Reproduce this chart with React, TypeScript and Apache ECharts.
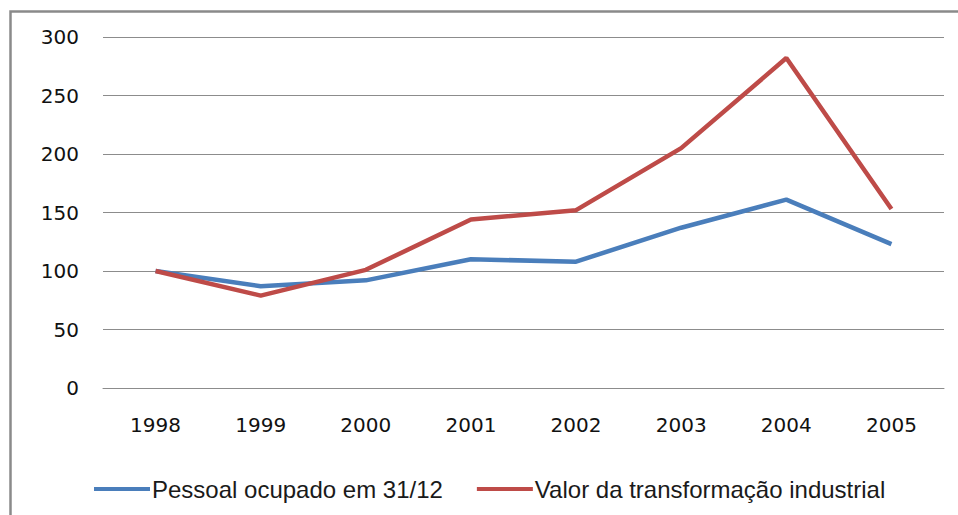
import React, { useEffect, useRef } from "react";
import * as echarts from "echarts";

const years = ["1998", "1999", "2000", "2001", "2002", "2003", "2004", "2005"];
const pessoalOcupado = [100, 87, 92, 110, 108, 137, 161, 123];
const valorTransformacao = [100, 79, 101, 144, 152, 205, 282, 153];
const seriesNames = ["Pessoal ocupado em 31/12", "Valor da transformação industrial"];

export default function App() {
  const ref = useRef<HTMLDivElement>(null);
  useEffect(() => {
    if (!ref.current) return;
    const chart = echarts.init(ref.current, null, { renderer: "svg" });
    chart.setOption({
      animation: false,
      backgroundColor: "#ffffff",
      graphic: [
        {
          type: "rect",
          shape: { x: 10.5, y: 11.5, width: 1000, height: 600 },
          style: { fill: "none", stroke: "#8a8a8a", lineWidth: 2.5 },
          silent: true,
        },
      ],
      grid: { left: 103, right: 14, top: 37, bottom: 127, containLabel: false },
      legend: {
        top: 472,
        left: 89,
        itemWidth: 56,
        itemHeight: 4,
        itemGap: 34,
        icon: "rect",
        textStyle: {
          fontFamily: "Liberation Sans, Arial, sans-serif",
          fontSize: 24,
          color: "#1a1a1a",
          padding: [0, 0, 0, -3],
        },
        data: seriesNames,
      },
      xAxis: {
        type: "category",
        data: years,
        boundaryGap: true,
        axisLine: { show: true, lineStyle: { color: "#8c8c8c", width: 1 } },
        axisTick: { show: false },
        axisLabel: { margin: 27, fontFamily: "DejaVu Sans", fontSize: 20, color: "#111111" },
      },
      yAxis: {
        type: "value",
        min: 0,
        max: 300,
        interval: 50,
        axisLine: { show: false },
        axisTick: { show: false },
        axisLabel: { margin: 24, fontFamily: "DejaVu Sans", fontSize: 20, color: "#111111" },
        splitLine: { show: true, lineStyle: { color: "#8c8c8c", width: 1 } },
      },
      series: [
        {
          name: seriesNames[0],
          type: "line",
          data: pessoalOcupado,
          symbol: "none",
          lineStyle: { color: "#4a7ebb", width: 4.5 },
          itemStyle: { color: "#4a7ebb" },
        },
        {
          name: seriesNames[1],
          type: "line",
          data: valorTransformacao,
          symbol: "none",
          lineStyle: { color: "#be4b48", width: 4.5 },
          itemStyle: { color: "#be4b48" },
        },
      ],
    });
    return () => chart.dispose();
  }, []);
  return (
    <div
      ref={ref}
      style={{ position: "absolute", left: 0, top: 0, width: 958, height: 515 }}
    />
  );
}
